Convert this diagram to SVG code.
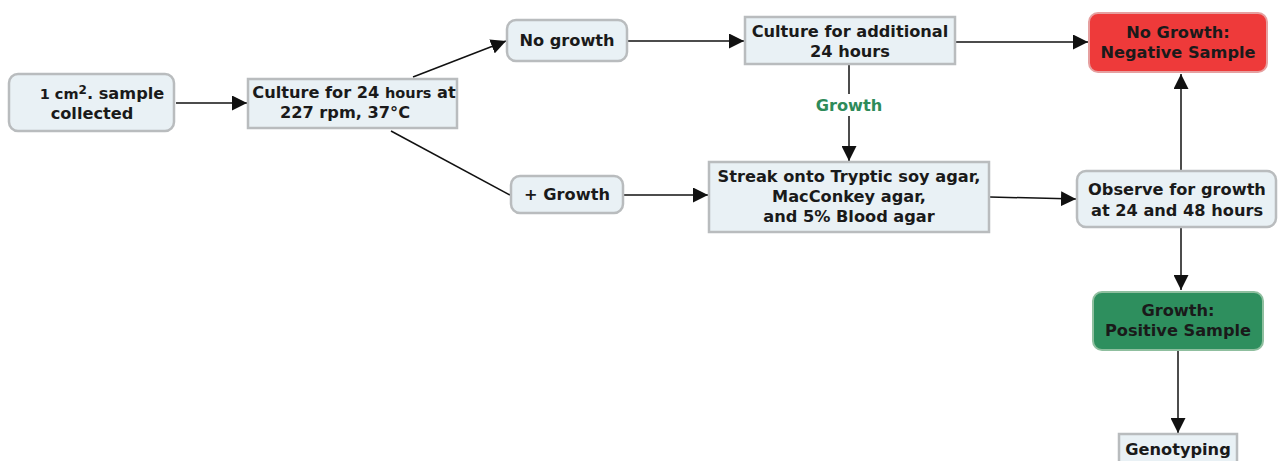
<svg xmlns="http://www.w3.org/2000/svg" width="1278" height="461" viewBox="0 0 1278 461">
<defs>
<style>
.box{fill:#e9f1f5;stroke:#b9bcbe;stroke-width:2.5}
.t{font-family:"DejaVu Sans",Verdana,sans-serif;font-weight:bold;font-size:16.2px;fill:#1a1a1a;text-anchor:middle}
.c{stroke:#111;stroke-width:1.5;fill:none}
</style>
<marker id="b" viewBox="0 0 14 14" refX="14" refY="7" markerWidth="15" markerHeight="15" markerUnits="userSpaceOnUse" orient="auto">
<path d="M0,0 L14,7 L0,14 Z" fill="#111"/>
</marker>
</defs>
<rect width="1278" height="461" fill="#fff"/>
<g id="connectors">
<line class="c" x1="176" y1="103" x2="247" y2="103" marker-end="url(#b)"/>
<line class="c" x1="413" y1="77" x2="506" y2="41" marker-end="url(#b)"/>
<line class="c" x1="391" y1="131" x2="510" y2="195"/>
<line class="c" x1="628" y1="41" x2="744" y2="41" marker-end="url(#b)"/>
<line class="c" x1="956" y1="42" x2="1088" y2="42" marker-end="url(#b)"/>
<line class="c" x1="849" y1="65" x2="849" y2="94"/>
<line class="c" x1="849" y1="116" x2="849" y2="161" marker-end="url(#b)"/>
<line class="c" x1="624" y1="195" x2="708" y2="195" marker-end="url(#b)"/>
<line class="c" x1="990" y1="197" x2="1076" y2="199" marker-end="url(#b)"/>
<line class="c" x1="1181" y1="170" x2="1181" y2="74" marker-end="url(#b)"/>
<line class="c" x1="1181" y1="228" x2="1181" y2="290" marker-end="url(#b)"/>
<line class="c" x1="1178" y1="351" x2="1178" y2="433" marker-end="url(#b)"/>
<text class="t" x="849" y="111" style="fill:#2e8b5a">Growth</text>
</g>
<g id="n1">
<rect class="box" x="9" y="74" width="165" height="57" rx="9"/>
<text class="t" x="102" y="99"><tspan font-size="14.5">1 cm</tspan><tspan dy="-5" font-size="12">2</tspan><tspan dy="5">. sample</tspan></text>
<text class="t" x="92" y="119">collected</text>
</g>
<g id="n2">
<rect class="box" x="248" y="79" width="209" height="49"/>
<text class="t" x="354" y="98">Culture for 24 <tspan font-size="14.5">hours</tspan> at</text>
<text class="t" x="345" y="118">227 rpm, 37°C</text>
</g>
<g id="n3">
<rect class="box" x="507" y="20" width="120" height="41" rx="9"/>
<text class="t" x="567" y="46">No growth</text>
</g>
<g id="n4">
<rect class="box" x="745" y="17" width="210" height="47"/>
<text class="t" x="850" y="37">Culture for additional</text>
<text class="t" x="850" y="57">24 hours</text>
</g>
<g id="n5">
<rect x="1089" y="13" width="178" height="59" rx="9" fill="#ee3a3a" stroke="#e6a0a0" stroke-width="2"/>
<text class="t" x="1178" y="38">No Growth:</text>
<text class="t" x="1178" y="58">Negative Sample</text>
</g>
<g id="n6">
<rect class="box" x="511" y="176" width="112" height="37" rx="9"/>
<text class="t" x="567" y="200">+ Growth</text>
</g>
<g id="n7">
<rect class="box" x="709" y="162" width="280" height="70"/>
<text class="t" x="849" y="182">Streak onto Tryptic soy agar,</text>
<text class="t" x="849" y="202">MacConkey agar,</text>
<text class="t" x="849" y="222">and 5% Blood agar</text>
</g>
<g id="n8">
<rect class="box" x="1077" y="171" width="199" height="56" rx="9"/>
<text class="t" x="1177" y="195">Observe for growth</text>
<text class="t" x="1177" y="216">at 24 and 48 hours</text>
</g>
<g id="n9">
<rect x="1093" y="292" width="170" height="58" rx="9" fill="#2e8f5e" stroke="#8fbf9f" stroke-width="2"/>
<text class="t" x="1178" y="316">Growth:</text>
<text class="t" x="1178" y="336">Positive Sample</text>
</g>
<g id="n10">
<rect class="box" x="1119" y="434" width="118" height="32"/>
<text class="t" x="1178" y="455">Genotyping</text>
</g>
</svg>
